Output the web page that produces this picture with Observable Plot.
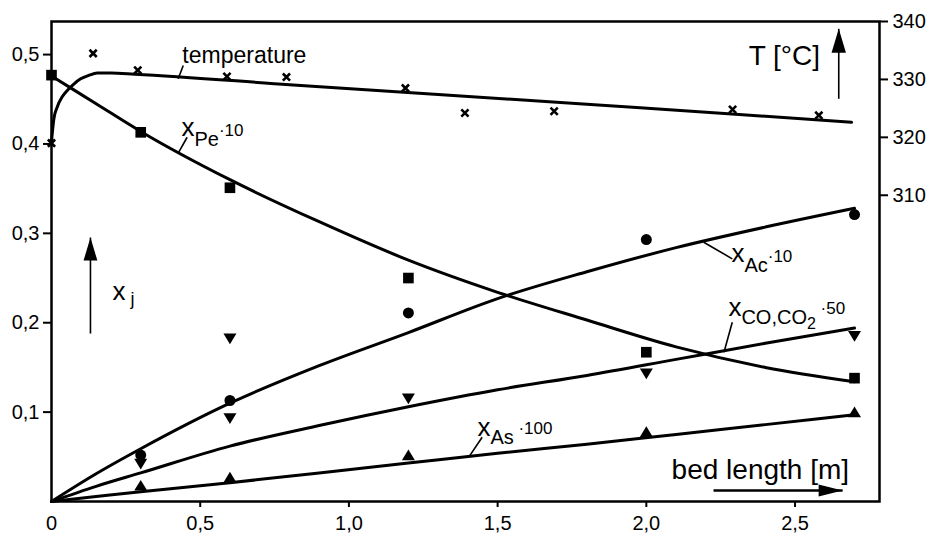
<!DOCTYPE html>
<html><head><meta charset="utf-8">
<script src="https://cdn.jsdelivr.net/npm/d3@7"></script>
<script src="https://cdn.jsdelivr.net/npm/@observablehq/plot@0.6"></script>
<style>
body{margin:0;background:#fff;}
#chart svg{display:block;background:#fff;font-family:"Liberation Sans",Arial,sans-serif;}
</style></head><body><div id="chart"></div>
<script>
// ---- measured points (bed length in m) ----
const peX = [0, 0.3, 0.6, 1.2, 2.0, 2.7];
const peVals = [0.477, 0.413, 0.351, 0.250, 0.167, 0.138];
const acX = [0.3, 0.6, 1.2, 2.0, 2.7];
const acVals = [0.052, 0.113, 0.211, 0.293, 0.321];
const coX = [0.3, 0.6, 0.6, 1.2, 2.0, 2.7];
const coVals = [0.042, 0.182, 0.093, 0.115, 0.143, 0.185];
const asX = [0.3, 0.6, 1.2, 2.0, 2.7];
const asVals = [0.018, 0.027, 0.052, 0.078, 0.100];
const tempX = [0, 0.14, 0.29, 0.59, 0.79, 1.19, 1.39, 1.69, 2.29, 2.58];
const tempVals = [319.0, 334.5, 331.6, 330.5, 330.4, 328.5, 324.2, 324.5, 324.8, 323.8];

// ---- fitted curves ----
const curveX = [0, 0.15, 0.3, 0.6, 0.9, 1.2, 1.5, 1.8, 2.1, 2.4, 2.7];
const peCurve = [0.476, 0.445, 0.414, 0.360, 0.313, 0.270, 0.234, 0.203, 0.173, 0.150, 0.134];
const acCurve = [0, 0.031, 0.059, 0.110, 0.152, 0.189, 0.227, 0.257, 0.284, 0.307, 0.328];
const coCurve = [0, 0.017, 0.032, 0.062, 0.085, 0.106, 0.125, 0.141, 0.159, 0.177, 0.194];
const asCurve = [0, 0.0055, 0.011, 0.021, 0.032, 0.043, 0.054, 0.064, 0.075, 0.086, 0.097];
const tempCurveX = [0, 0.008, 0.019, 0.036, 0.053, 0.075, 0.098, 0.125, 0.154, 0.2, 0.28, 0.8, 1.3, 1.8, 2.3, 2.69];
const tempCurve = [319.3, 323.2, 325.2, 327.0, 328.1, 329.2, 330.1, 330.7, 331.1, 331.1, 330.9, 329.1, 327.4, 325.7, 324.0, 322.6];

// ---- axis ticks ----
const xTicks = [0.5, 1.0, 1.5, 2.0, 2.5];
const yTicks = [0.1, 0.2, 0.3, 0.4, 0.5];
const tTicks = [310, 320, 330, 340];

// right (temperature) axis alignment with the x_j axis
const Y_MAX = 0.537, T_AT_TOP = 340, XJ_PER_DEG = 0.00648;
const tToY = t => Y_MAX - (T_AT_TOP - t) * XJ_PER_DEG;
const yToT = y => T_AT_TOP - (Y_MAX - y) / XJ_PER_DEG;
const comma = d => d === 0 ? "0" : d.toFixed(1).replace(".", ",");

const zip = (xs, ys, f = v => v) => xs.map((x, i) => ({x, y: f(ys[i])}));

// ---- symbols ----
const rOf = s => Math.sqrt(s / Math.PI);
const triUp = {draw(c, s){const r = rOf(s); c.moveTo(0, -0.85*r); c.lineTo(r, 0.8*r); c.lineTo(-r, 0.8*r); c.closePath();}};
const triDown = {draw(c, s){const r = rOf(s); c.moveTo(0, 0.85*r); c.lineTo(r, -0.8*r); c.lineTo(-r, -0.8*r); c.closePath();}};
const cross = {draw(c, s){const r = rOf(s); c.moveTo(-r, -r); c.lineTo(r, r); c.moveTo(r, -r); c.lineTo(-r, r);}};
const headUp = {draw(c, s){const r = rOf(s); c.moveTo(0, 0); c.lineTo(0.3*r, r); c.lineTo(-0.3*r, r); c.closePath();}};
const headRight = {draw(c, s){const r = rOf(s); c.moveTo(0, 0); c.lineTo(-r, 0.25*r); c.lineTo(-r, -0.25*r); c.closePath();}};

// ---- annotations (data units) ----
const plainLabels = [
  {x: 0.440, y: 0.4911, text: "temperature", size: 23},
  {x: 2.344, y: 0.4878, text: "T [°C]", size: 28},
  {x: 2.085, y: 0.0257, text: "bed length [m]", size: 28}
];
const richLabels = [
  {x: 0.437, y: 0.4094, key: "§pe", parts: [["x", 26, 0], ["Pe", 20, 10], ["·10", 17, -10]]},
  {x: 2.286, y: 0.2677, key: "§ac", parts: [["x", 26, 0], ["Ac", 20, 10], ["·10", 17, -10]]},
  {x: 2.276, y: 0.2070, key: "§co", parts: [["x", 26, 0], ["CO,CO", 20, 8], ["2", 16, 5], [" ·50", 17, -15]]},
  {x: 1.432, y: 0.0738, key: "§as", parts: [["x", 26, 0], ["As", 20, 8], [" ·100", 17, -10]]},
  {x: 0.205, y: 0.2249, key: "§xj", parts: [["x", 26, 0], [" j", 18, 5]]}
];
const leaders = [
  {x1: 0.443, y1: 0.4878, x2: 0.426, y2: 0.4729},
  {x1: 0.456, y1: 0.4075, x2: 0.428, y2: 0.3908},
  {x1: 2.193, y1: 0.2901, x2: 2.289, y2: 0.2715},
  {x1: 2.289, y1: 0.2006, x2: 2.261, y2: 0.1670},
  {x1: 1.448, y1: 0.0719, x2: 1.403, y2: 0.0496}
];
const tArrow = [{x: 2.647, y1: 0.4505, y2: 0.5288}];
const xjArrow = [{x: 0.131, y1: 0.1879, y2: 0.2953}];
const bedArrow = [{y: 0.0123, x1: 2.226, x2: 2.660}];

const lineOpts = {x: "x", y: "y", stroke: "black", strokeWidth: 3, curve: "monotone-x", strokeLinejoin: "round"};
const shaft = (data, w) => Plot.link(data, {x1: d => d.x ?? d.x1, x2: d => d.x ?? d.x2, y1: d => d.y ?? d.y1, y2: d => d.y ?? d.y2, stroke: "black", strokeWidth: w});

const chart = Plot.plot({
  width: 932, height: 533,
  marginLeft: 51, marginRight: 53, marginTop: 21, marginBottom: 32,
  x: {domain: [0, 2.784]},
  y: {domain: [0, Y_MAX]},
  style: {fontFamily: "'Liberation Sans', Arial, sans-serif", color: "black", background: "white"},
  marks: [
    Plot.frame({stroke: "black", strokeWidth: 2.5}),
    Plot.axisY({ticks: yTicks, tickFormat: comma, tickSize: 8, tickPadding: 4, fontSize: 20, strokeWidth: 2, label: null}),
    Plot.axisY({anchor: "right", ticks: tTicks.map(tToY), tickFormat: d => String(Math.round(yToT(d))), tickSize: 8, tickPadding: 5, fontSize: 20, strokeWidth: 2, label: null}),
    Plot.axisX({ticks: xTicks, tickFormat: comma, tickSize: 6, tickPadding: 8, fontSize: 20, strokeWidth: 2, label: null}),
    Plot.axisX({ticks: [0], tickFormat: comma, tickSize: 0, tickPadding: 14, fontSize: 20, label: null}),

    Plot.line(zip(tempCurveX, tempCurve, tToY), lineOpts),
    Plot.line(zip(curveX, peCurve), lineOpts),
    Plot.line(zip(curveX, acCurve), lineOpts),
    Plot.line(zip(curveX, coCurve), lineOpts),
    Plot.line(zip(curveX, asCurve), lineOpts),

    Plot.dot(zip(tempX, tempVals, tToY), {x: "x", y: "y", symbol: cross, r: 3.6, stroke: "black", strokeWidth: 2.6, fill: "none"}),
    Plot.dot(zip(peX, peVals), {x: "x", y: "y", symbol: "square", r: 6, fill: "black", stroke: "none"}),
    Plot.dot(zip(acX, acVals), {x: "x", y: "y", symbol: "circle", r: 5.5, fill: "black", stroke: "none"}),
    Plot.dot(zip(coX, coVals), {x: "x", y: "y", symbol: triDown, r: 6.5, fill: "black", stroke: "none"}),
    Plot.dot(zip(asX, asVals), {x: "x", y: "y", symbol: triUp, r: 6.5, fill: "black", stroke: "none"}),

    Plot.link(leaders, {x1: "x1", y1: "y1", x2: "x2", y2: "y2", stroke: "black", strokeWidth: 1.6}),
    shaft(tArrow, 1.6),
    Plot.dot(tArrow, {x: "x", y: "y2", symbol: headUp, r: 24, fill: "black", stroke: "none"}),
    shaft(xjArrow, 1.6),
    Plot.dot(xjArrow, {x: "x", y: "y2", symbol: headUp, r: 23, fill: "black", stroke: "none"}),
    shaft(bedArrow, 2.6),
    Plot.dot(bedArrow, {x: "x2", y: "y", symbol: headRight, r: 24, fill: "black", stroke: "none"}),

    ...plainLabels.map(l => Plot.text([l], {x: "x", y: "y", text: "text", fontSize: l.size, textAnchor: "start", lineAnchor: "bottom", fill: "black"})),
    Plot.text(richLabels, {x: "x", y: "y", text: "key", fontSize: 26, textAnchor: "start", lineAnchor: "bottom", fill: "black"})
  ]
});

// rebuild rich labels with sub/superscripts as tspans
const richMap = new Map(richLabels.map(l => [l.key, l]));
const NS = "http://www.w3.org/2000/svg";
chart.querySelectorAll("text").forEach(t => {
  const lab = richMap.get(t.textContent);
  if (!lab) return;
  t.textContent = "";
  for (const [s, fs, dy] of lab.parts) {
    const ts = document.createElementNS(NS, "tspan");
    ts.setAttribute("font-size", fs);
    if (dy) ts.setAttribute("dy", dy);
    ts.textContent = s;
    t.appendChild(ts);
  }
});
document.getElementById("chart").appendChild(chart);
</script>
</body></html>
